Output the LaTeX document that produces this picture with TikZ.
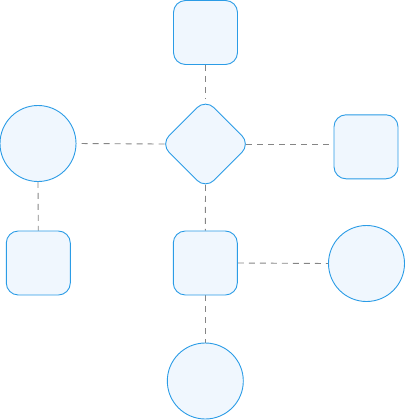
\documentclass[tikz,border=0pt]{standalone}
\usepackage{tikz}
\usetikzlibrary{shapes.geometric,backgrounds}
\definecolor{sky}{HTML}{2B9CE6}
\definecolor{ice}{HTML}{F0F7FE}
\definecolor{dashgray}{HTML}{858585}
\tikzset{
  box/.style={draw=sky, fill=ice, line width=0.9pt, rounded corners=12pt,
              minimum size=64pt, inner sep=0pt},
  disc/.style={draw=sky, fill=ice, line width=0.9pt, circle,
               minimum size=76pt, inner sep=0pt},
  gem/.style={draw=sky, fill=ice, line width=0.9pt, diamond, rounded corners=12pt,
              minimum size=90pt, inner sep=0pt},
  link/.style={dashgray, line width=0.9pt, dash pattern=on 6pt off 5pt},
}
\begin{document}
\begin{tikzpicture}[x=1pt, y=-1pt]
  \useasboundingbox (0,0) rectangle (405,420);
  % top row
  \node[box] (top) at (205.5,32.5) {};
  % middle row
  \node[disc] (left) at (38,143.5) {};
  \node[gem] (hub) at (205.5,144) {};
  \node[box] (right) at (366,146.8) {};
  % lower row
  \node[box] (lowl) at (38.3,263) {};
  \node[box] (mid) at (205.3,263) {};
  \node[disc] (lowr) at (366.5,263.5) {};
  % bottom
  \node[disc] (base) at (205.3,381) {};

  % dashed links, parent to child
  \begin{scope}[on background layer]
    \draw[link] (top.south) -- (hub.north);
    \draw[link, shorten <=-4.5pt] (hub.west) -- (left.east);
    \draw[link, shorten <=-4.5pt] (hub.east) -- (right.west |- hub.east);
    \draw[link, shorten <=-4.5pt] (hub.south) -- (mid.north);
    \draw[link] (left.south) -- (lowl.north);
    \draw[link] (mid.east) -- (lowr.west);
    \draw[link] (mid.south) -- (base.north);
  \end{scope}
\end{tikzpicture}
\end{document}
